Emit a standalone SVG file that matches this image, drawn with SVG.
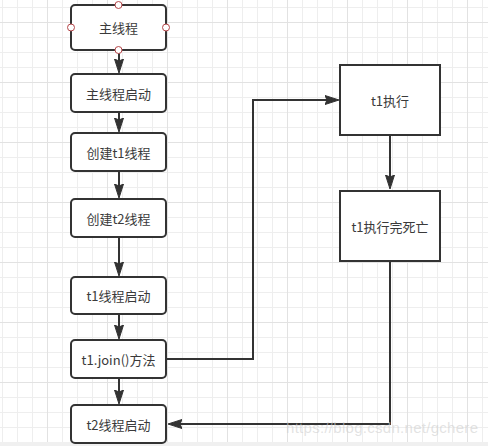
<svg xmlns="http://www.w3.org/2000/svg" width="488" height="446" viewBox="0 0 488 446">
<style>
.node rect{fill:#fff;stroke:#333;stroke-width:2}
.node text{font-family:"Noto Sans CJK SC","Liberation Sans",sans-serif;font-size:13px;fill:#3a3a3a;text-anchor:middle;dominant-baseline:central}
.conn path{fill:none;stroke:#333;stroke-width:2;marker-end:url(#arrow)}
.handle{fill:#fff;stroke:#b5474a;stroke-width:1}
.wm{font-family:"Liberation Sans",Arial,sans-serif;font-size:15px;fill:#cfcfcf;fill-opacity:0.6}
</style>
<defs>
<pattern id="minor" patternUnits="userSpaceOnUse" x="2" y="7" width="15" height="15">
<path d="M0.5 0V15M0 0.5H15" stroke="#eeeeee" stroke-width="1" fill="none"/>
</pattern>
<pattern id="major" patternUnits="userSpaceOnUse" x="47" y="22" width="60" height="60">
<path d="M0.5 0V60M0 0.5H60" stroke="#e2e2e2" stroke-width="1" fill="none"/>
</pattern>
<marker id="arrow" markerUnits="userSpaceOnUse" markerWidth="16" markerHeight="12" refX="8" refY="5" orient="auto" viewBox="0 0 16 10">
<path d="M0 0.5L14 5L0 9.5L2 5Z" fill="#333" stroke="#333" stroke-width="1" stroke-linejoin="miter"/>
</marker>
</defs>
<rect width="488" height="446" fill="#fff"/>
<rect width="488" height="446" fill="url(#minor)"/>
<rect width="488" height="446" fill="url(#major)"/>
<rect x="0" y="442" width="488" height="4" fill="#f0f0f0"/>

<g id="connectors" class="conn">
<path d="M119 50V67"/>
<path d="M119 112V126"/>
<path d="M119 171V192"/>
<path d="M119 237V270"/>
<path d="M119 314V333"/>
<path d="M119 378V398"/>
<path d="M166 359H253V100H333"/>
<path d="M390 135V183"/>
<path d="M390 261V424H174"/>
</g>

<g id="main" class="node">
<rect x="71" y="5" width="95" height="45" rx="4"/>
<text x="118.5" y="27.5">主线程</text>
<circle class="handle" cx="118.5" cy="5" r="3.5"/>
<circle class="handle" cx="71" cy="27.5" r="3.5"/>
<circle class="handle" cx="166" cy="27.5" r="3.5"/>
<circle class="handle" cx="118.5" cy="50" r="3.5"/>
</g>
<g id="mainStart" class="node">
<rect x="71" y="74" width="95" height="38" rx="4"/>
<text x="118.5" y="93">主线程启动</text>
</g>
<g id="createT1" class="node">
<rect x="71" y="133" width="95" height="38" rx="4"/>
<text x="118.5" y="152">创建t1线程</text>
</g>
<g id="createT2" class="node">
<rect x="71" y="199" width="95" height="38" rx="4"/>
<text x="118.5" y="218">创建t2线程</text>
</g>
<g id="t1Start" class="node">
<rect x="71" y="277" width="95" height="37" rx="4"/>
<text x="118.5" y="295.5">t1线程启动</text>
</g>
<g id="t1Join" class="node">
<rect x="71" y="340" width="95" height="38" rx="4"/>
<text x="118.5" y="359">t1.join()方法</text>
</g>
<g id="t2Start" class="node">
<rect x="71" y="405" width="95" height="38" rx="4"/>
<text x="118.5" y="424">t2线程启动</text>
</g>
<g id="t1Run" class="node">
<rect x="340" y="65" width="100" height="70"/>
<text x="390" y="100">t1执行</text>
</g>
<g id="t1Dead" class="node">
<rect x="340" y="191" width="100" height="70"/>
<text x="390" y="226">t1执行完死亡</text>
</g>

<text class="wm" x="286" y="433" textLength="192" lengthAdjust="spacing">https://blog.csdn.net/gchere</text>
</svg>
